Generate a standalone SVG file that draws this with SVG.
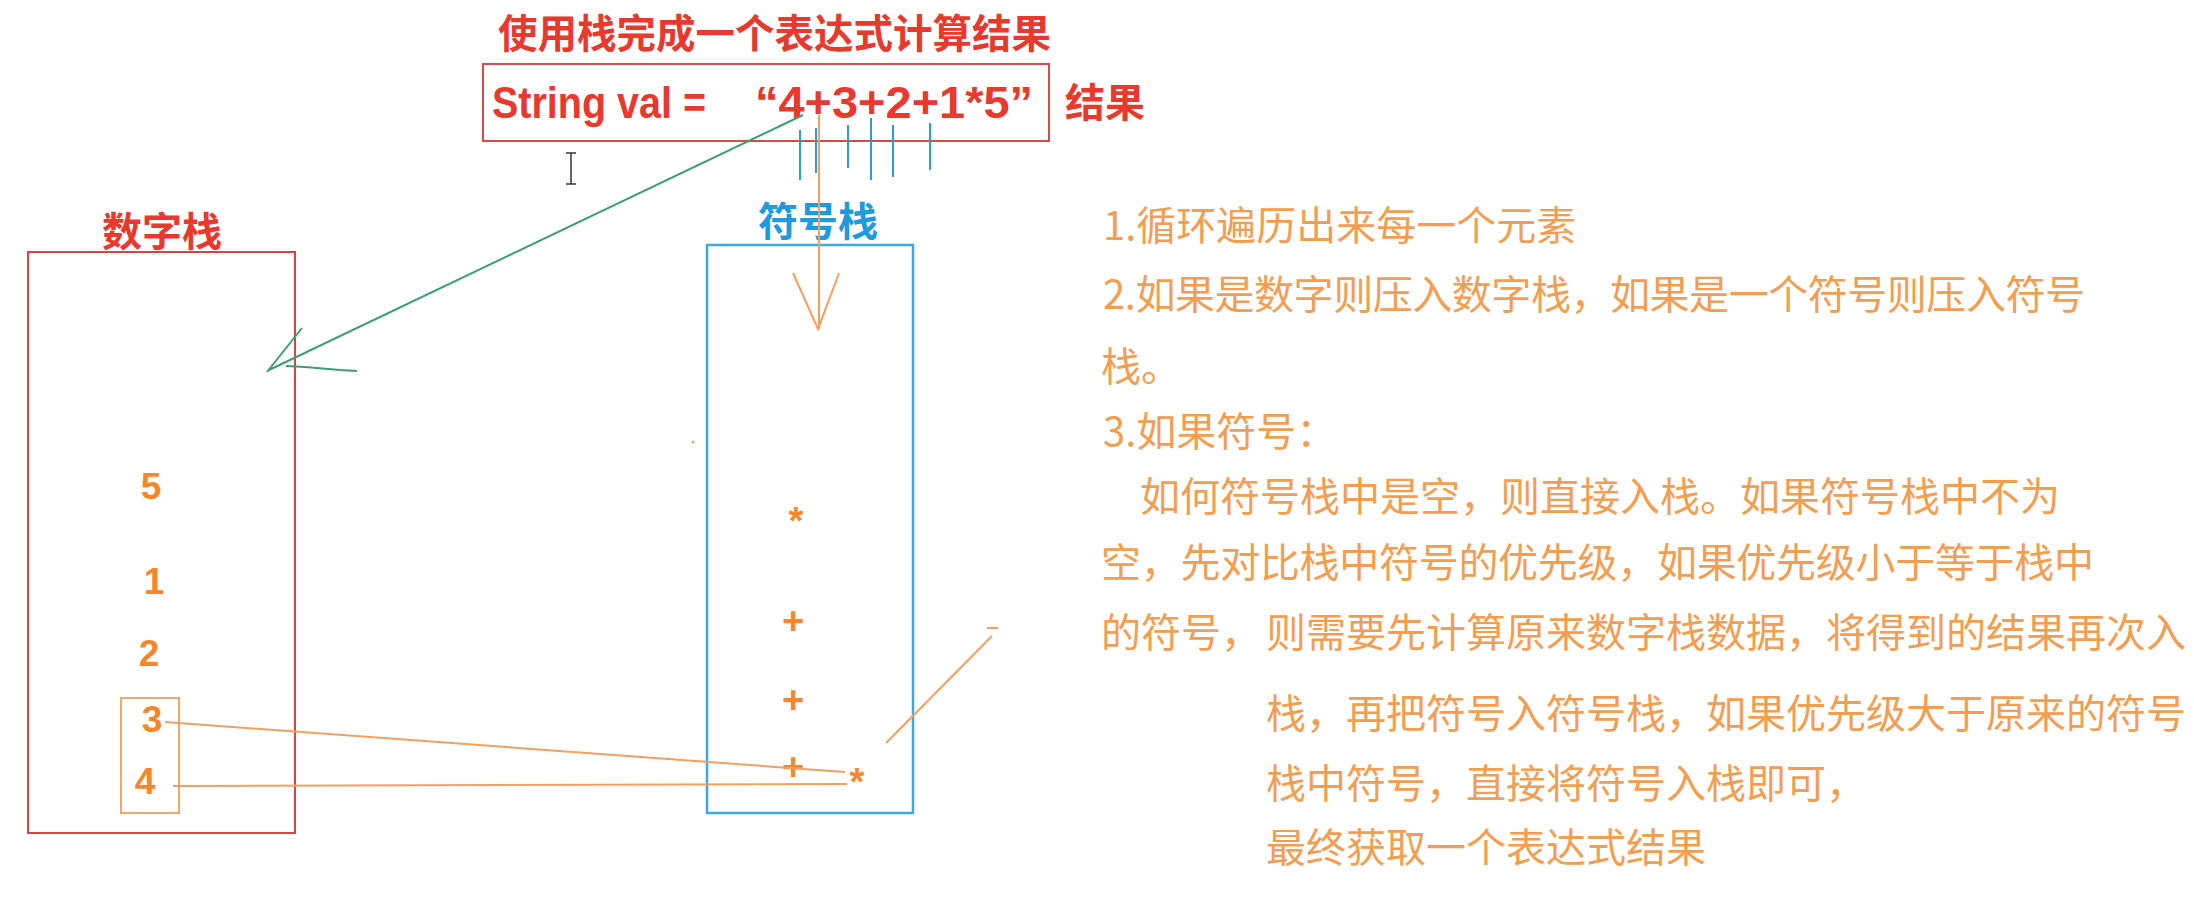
<svg xmlns="http://www.w3.org/2000/svg" width="2194" height="912" viewBox="0 0 2194 912">
<style>
.cjkb{font-family:"Noto Sans CJK SC","Noto Sans",sans-serif;font-weight:bold}
.red{fill:#E8392E}
.blue{fill:#1E9BDC}
.lat{font-family:"Liberation Sans",Arial,sans-serif;font-weight:bold}
.dig{font-family:"Liberation Sans",Arial,sans-serif;font-weight:bold;font-size:37px;fill:#F5872A;text-anchor:middle}
.sym{font-family:"Liberation Sans",Arial,sans-serif;font-weight:bold;font-size:38px;fill:#F5872A;text-anchor:middle}
.note{font-family:"Noto Sans CJK SC","Noto Sans",sans-serif;font-size:40px;fill:#F29E52}
.o{stroke:#F0A060;stroke-width:2;fill:none}
.g{stroke:#3E9E72;stroke-width:2;fill:none}
.b{stroke:#2E9AD6;stroke-width:2;fill:none}
</style>
<rect width="2194" height="912" fill="#ffffff"/>

<g id="title">
<text class="cjkb red" x="498" y="48" font-size="40" textLength="553" lengthAdjust="spacingAndGlyphs">使用栈完成一个表达式计算结果</text>
</g>

<g id="expression">
<rect x="483" y="64" width="566" height="77" fill="none" stroke="#D64A4A" stroke-width="2"/>
<text class="lat red" x="492" y="118" font-size="45" textLength="214" lengthAdjust="spacingAndGlyphs">String val =</text>
<text class="lat red" x="755" y="118" font-size="45" textLength="278" lengthAdjust="spacingAndGlyphs">“4+3+2+1*5”</text>
<text class="cjkb red" x="1065" y="117" font-size="40">结果</text>
</g>

<g id="cursor" stroke="#333333" stroke-width="1.5" fill="none">
<line x1="571" y1="153" x2="571" y2="184"/>
<line x1="566" y1="153" x2="576" y2="153"/>
<line x1="566" y1="184" x2="576" y2="184"/>
</g>

<g id="ticks" class="b">
<line x1="800" y1="130" x2="800" y2="180"/>
<line x1="816" y1="128" x2="816" y2="173"/>
<line x1="848" y1="125" x2="848" y2="168"/>
<line x1="871" y1="118" x2="871" y2="180"/>
<line x1="893" y1="125" x2="893" y2="177"/>
<line x1="930" y1="123" x2="930" y2="170"/>
</g>

<g id="number-stack">
<text class="cjkb red" x="102" y="246" font-size="40">数字栈</text>
<rect x="28" y="252" width="267" height="581" fill="none" stroke="#D64545" stroke-width="2"/>
<text class="dig" x="151" y="499">5</text>
<text class="dig" x="154" y="594">1</text>
<text class="dig" x="149" y="666">2</text>
<text class="dig" x="152" y="732">3</text>
<text class="dig" x="145" y="794">4</text>
<rect x="121" y="698" width="58" height="115" fill="none" stroke="#F0A868" stroke-width="2"/>
</g>

<g id="symbol-stack">
<text class="cjkb blue" x="758" y="236" font-size="40">符号栈</text>
<rect x="707" y="245" width="206" height="568" fill="none" stroke="#3FA9DC" stroke-width="2.5"/>
<text class="sym" x="796" y="534" font-size="42">*</text>
<text class="sym" x="793" y="634">+</text>
<text class="sym" x="793" y="713">+</text>
<text class="sym" x="793" y="780">+</text>
<text class="sym" x="857" y="795" font-weight="normal" fill="#F5A05A">*</text>
</g>

<g id="connectors">
<line class="g" x1="803" y1="115" x2="269" y2="370"/>
<line class="g" x1="267" y1="372" x2="302" y2="328"/>
<polyline class="g" points="286,366 305,367 340,370 357,371"/>
<line class="o" x1="819" y1="115" x2="819" y2="329"/>
<polyline class="o" points="793,273 818,329 839,273"/>
<line class="o" x1="165" y1="722" x2="845" y2="772"/>
<line class="o" x1="173" y1="786" x2="847" y2="784"/>
<line class="o" x1="886" y1="743" x2="992" y2="636"/>
<line class="o" x1="987" y1="628" x2="998" y2="628"/>
<circle cx="693" cy="442" r="1.5" fill="#F0A060"/>
</g>

<g id="notes" class="note">
<text x="1103" y="240">1.循环遍历出来每一个元素</text>
<text x="1103" y="309" textLength="982">2.如果是数字则压入数字栈，如果是一个符号则压入符号</text>
<text x="1101" y="381">栈。</text>
<text x="1103" y="446">3.如果符号：</text>
<text x="1140" y="511">如何符号栈中是空，则直接入栈。如果符号栈中不为</text>
<text x="1101" y="577" textLength="993">空，先对比栈中符号的优先级，如果优先级小于等于栈中</text>
<text x="1101" y="647">的符号，<tspan x="1266">则需要先计算原来数字栈数据，将得到的结果再次入</tspan></text>
<text x="1266" y="728">栈，再把符号入符号栈，如果优先级大于原来的符号</text>
<text x="1266" y="798">栈中符号，直接将符号入栈即可，</text>
<text x="1266" y="862">最终获取一个表达式结果</text>
</g>
</svg>
